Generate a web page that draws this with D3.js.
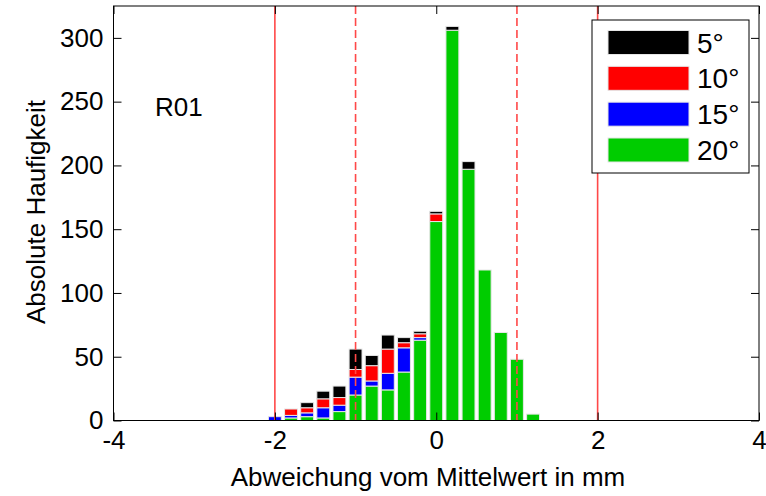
<!DOCTYPE html>
<html>
<head>
<meta charset="utf-8">
<script src="https://cdn.jsdelivr.net/npm/d3@7"></script>
<style>
  html, body { margin: 0; padding: 0; background: #fff; }
  svg { display: block; font-family: "Liberation Sans", Arial, Helvetica, sans-serif; }
</style>
</head>
<body>
<svg id="chart" width="766" height="496"></svg>
<script>
// ---- data ----
const binCenters = [-2.0, -1.8, -1.6, -1.4, -1.2, -1.0, -0.8, -0.6, -0.4, -0.2, 0.0, 0.2, 0.4, 0.6, 0.8, 1.0, 1.2];
const series20 = [0, 2, 3, 2, 7, 20, 27, 24, 38, 63, 156, 306, 197, 118, 69, 48, 5];
const series15 = [3, 2, 3, 8, 5, 14, 4, 13, 19, 2, 0, 0, 0, 0, 0, 0, 0];
const series10 = [0, 5, 4, 7, 6, 6, 12, 19, 4, 3, 6, 0, 0, 0, 0, 0, 0];
const series5  = [0, 0, 4, 6, 9, 16, 8, 11, 4, 2, 2, 3, 6, 0, 0, 0, 0];
const seriesNames = ["5°", "10°", "15°", "20°"];
const seriesColors = ["#000000", "#ff0000", "#0000ff", "#00cc00"];
const xTicks = [-4, -2, 0, 2, 4];
const yTicks = [0, 50, 100, 150, 200, 250, 300];
const solidLines = [-2, 2];
const dashedLines = [-1, 1];
const binWidth = 0.2;
const xLabel = "Abweichung vom Mittelwert in mm";
const yLabel = "Absolute Haufigkeit";
const panelLabel = "R01";

// ---- layout ----
const svg = d3.select("#chart");
const L = 113.5, R = 759, T = 6, B = 420.5;
const x = d3.scaleLinear().domain([-4, 4]).range([L, R]);
const y = d3.scaleLinear().domain([0, 325]).range([B, T]);

const rows = binCenters.map((c, i) => ({
  c, s20: series20[i], s15: series15[i], s10: series10[i], s5: series5[i]
}));
const keys = ["s20", "s15", "s10", "s5"];
const keyColor = { s20: seriesColors[3], s15: seriesColors[2], s10: seriesColors[1], s5: seriesColors[0] };
const stack = d3.stack().keys(keys)(rows);

const barW = x(binWidth * 0.8) - x(0);
const gBars = svg.append("g");
stack.forEach(layer => {
  gBars.selectAll(null)
    .data(layer.filter(d => d[1] - d[0] > 0))
    .enter().append("rect")
    .attr("x", d => x(d.data.c) - barW / 2)
    .attr("width", barW)
    .attr("y", d => y(d[1]))
    .attr("height", d => y(d[0]) - y(d[1]))
    .attr("fill", keyColor[layer.key])
    .attr("stroke", "#e6e6e6")
    .attr("stroke-width", 1);
});

// reference lines
const lineColor = "#ff4848";
const gLines = svg.append("g");
gLines.selectAll(null).data(solidLines).enter().append("line")
  .attr("x1", d => x(d)).attr("x2", d => x(d))
  .attr("y1", T).attr("y2", B)
  .attr("stroke", lineColor).attr("stroke-width", 1.6);
gLines.selectAll(null).data(dashedLines).enter().append("line")
  .attr("x1", d => x(d)).attr("x2", d => x(d))
  .attr("y1", T).attr("y2", B)
  .attr("stroke", lineColor).attr("stroke-width", 1.6)
  .attr("stroke-dasharray", "8,4");

// axes (inward ticks, box)
const fs = 26;
const fmt = d => String(d);
const axB = d3.axisBottom(x).tickValues(xTicks).tickSizeInner(-8).tickSizeOuter(0).tickPadding(10).tickFormat(fmt);
const axT = d3.axisTop(x).tickValues(xTicks).tickSizeInner(-8).tickSizeOuter(0).tickFormat("");
const axL = d3.axisLeft(y).tickValues(yTicks).tickSizeInner(-8).tickSizeOuter(0).tickPadding(10).tickFormat(fmt);
const axR = d3.axisRight(y).tickValues(yTicks).tickSizeInner(-8).tickSizeOuter(0).tickFormat("");

function style(g) {
  g.select(".domain").remove();
  g.selectAll("line").attr("stroke", "#000");
  g.selectAll("text").attr("font-size", fs).attr("font-family", "Liberation Sans, Arial, sans-serif").attr("fill", "#000");
}
svg.append("g").attr("transform", `translate(0,${B})`).call(axB).call(style);
svg.append("g").attr("transform", `translate(0,${T})`).call(axT).call(style);
svg.append("g").attr("transform", `translate(${L},0)`).call(axL).call(style);
svg.append("g").attr("transform", `translate(${R},0)`).call(axR).call(style);

svg.append("rect").attr("x", L).attr("y", T).attr("width", R - L).attr("height", B - T)
  .attr("fill", "none").attr("stroke", "#000").attr("stroke-width", 1);

// labels
svg.append("text").attr("x", 428).attr("y", 486).attr("text-anchor", "middle")
  .attr("font-size", fs).text(xLabel);
svg.append("text").attr("transform", `translate(45,212) rotate(-90)`).attr("text-anchor", "middle")
  .attr("font-size", fs).text(yLabel);
svg.append("text").attr("x", 155).attr("y", 116).attr("font-size", fs).text(panelLabel);

// legend
const lg = svg.append("g");
lg.append("rect").attr("x", 592).attr("y", 20).attr("width", 157).attr("height", 153)
  .attr("fill", "#fff").attr("stroke", "#000").attr("stroke-width", 1);
const legY = d3.scalePoint().domain(seriesNames).range([42.5, 150]);
seriesNames.forEach((n, i) => {
  lg.append("rect").attr("x", 608).attr("y", legY(n) - 12).attr("width", 81).attr("height", 24)
    .attr("fill", seriesColors[i]).attr("stroke", "#e6e6e6").attr("stroke-width", 1);
  lg.append("text").attr("x", 697).attr("y", legY(n)).attr("dy", "0.36em")
    .attr("font-size", 28).text(n);
});
</script>
</body>
</html>
